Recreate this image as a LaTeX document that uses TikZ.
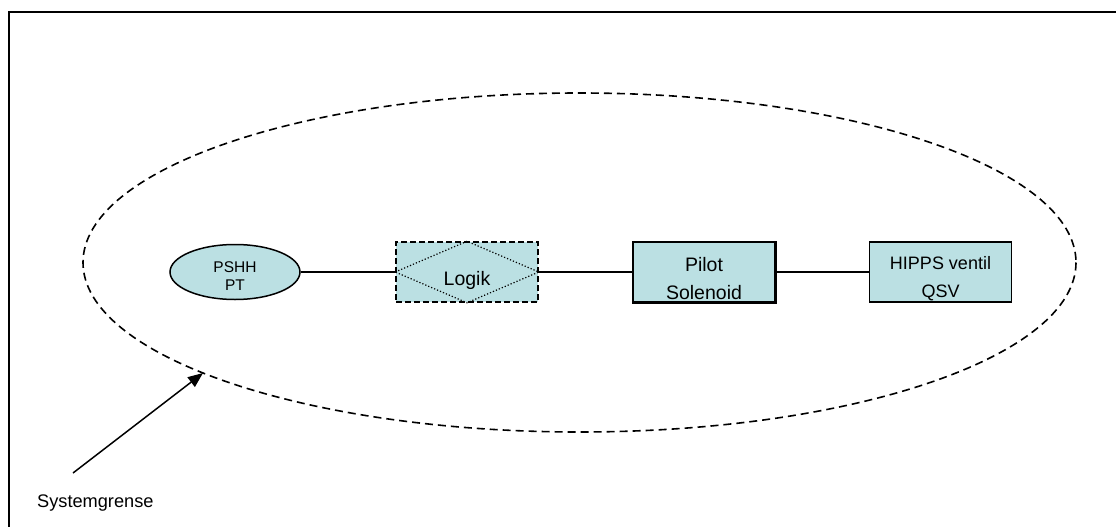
\documentclass[tikz,border=0pt]{standalone}
\usepackage{fontspec}
\setmainfont{Liberation Sans}
\usetikzlibrary{shapes.geometric,arrows.meta}
\definecolor{boxfill}{RGB}{187,224,227}
\tikzset{
  frameline/.style={line width=2pt, draw=black},
  boundary/.style={line width=1.6pt, dash pattern=on 8pt off 5pt},
  unitbox/.style={draw, line width=1.5pt, fill=boxfill, rectangle,
    minimum width=142pt, minimum height=60pt, inner sep=0pt},
  sensor/.style={draw, line width=1.5pt, fill=boxfill, ellipse,
    minimum width=130pt, minimum height=55pt, inner sep=0pt},
  link/.style={line width=1.5pt},
  lbl/.style={inner sep=0pt, anchor=base},
}
\begin{document}
\begin{tikzpicture}[x=1pt,y=-1pt]
\useasboundingbox (0,0) rectangle (1116,527);
% outer frame (top and left edges)
\draw[frameline] (8.5,527) -- (8.5,12.5) -- (1116,12.5);

% system boundary
\draw[boundary] (579.5,262.5) ellipse [x radius=496.5, y radius=169.5];

% components
\node[sensor] (pshh) at (235,272) {};
\node[lbl, font=\fontsize{15.5}{18}\selectfont] (pshhA) at (235,272.5) {PSHH};
\node[lbl, font=\fontsize{15.5}{18}\selectfont] (pshhB) at (235,290.5) {PT};

\node[unitbox, dash pattern=on 6pt off 3pt] (logik) at (467,272) {};
\draw[line width=1.2pt, dotted] (logik.west) -- (logik.north) -- (logik.east) -- (logik.south) -- cycle;
\node[lbl, font=\fontsize{19.5}{22}\selectfont] (logikT) at (467,285.5) {Logik};

\node[unitbox] (pilot) at (704,272) {};
\begin{scope}
  \clip (pilot.north west) rectangle (pilot.south east);
  \node[lbl, font=\fontsize{19.5}{22}\selectfont] (pilotA) at (704,271) {Pilot};
  \node[lbl, font=\fontsize{19.5}{22}\selectfont] (pilotB) at (704,299) {Solenoid};
\end{scope}
\draw[line width=1.5pt] (pilot.north west) rectangle (pilot.south east);

\node[unitbox] (hipps) at (940.5,272) {};
\node[lbl, font=\fontsize{18}{22}\selectfont] (hippsA) at (940.5,269) {HIPPS ventil};
\node[lbl, font=\fontsize{18}{22}\selectfont] (hippsB) at (940.5,297) {QSV};

% signal chain
\draw[link] (pshh.east) -- (logik.west);
\draw[link] (logik.east) -- (pilot.west);
\draw[link] (pilot.east) -- (hipps.west);

% boundary pointer
\coordinate (tip) at (203,373);
\coordinate (tail) at (73,473);
\draw[link, -{Triangle[length=15pt,width=12pt]}] (tail) -- (tip);
\node[inner sep=0pt, anchor=base west, font=\fontsize{18.2}{20}\selectfont] (sysgr) at (37,507) {Systemgrense};
\end{tikzpicture}
\end{document}
